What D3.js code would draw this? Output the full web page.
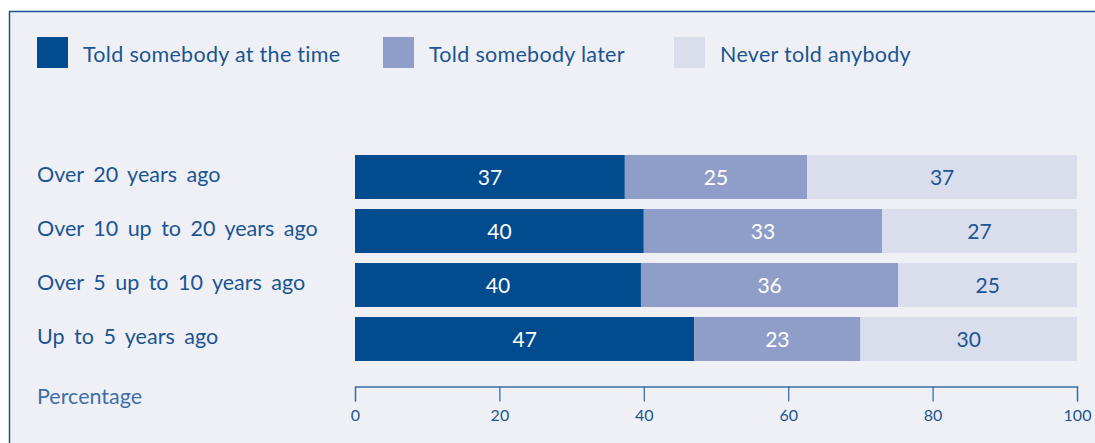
<!DOCTYPE html>
<html>
<head>
<meta charset="utf-8">
<script src="https://cdn.jsdelivr.net/npm/d3@7"></script>
<style>
  body { margin: 0; background: #fff; }
  text { font-family: "Lato", sans-serif; }
</style>
</head>
<body>
<div id="chart"></div>
<script>
// data
const periods = ["Over 20 years ago", "Over 10 up to 20 years ago", "Over 5 up to 10 years ago", "Up to 5 years ago"];
const seriesNames = ["Told somebody at the time", "Told somebody later", "Never told anybody"];
const toldAtTime = [37, 40, 40, 47];
const toldLater = [25, 33, 36, 23];
const neverTold = [37, 27, 25, 30];
const xTicks = [0, 20, 40, 60, 80, 100];

const width = 1095;
const height = 443;
const colors = ["#004c8f", "#8f9ec8", "#d9ddec"];
const labelColors = ["#ffffff", "#ffffff", "#1a5593"];
const textColor = "#1a5593";

const svg = d3.select("#chart").append("svg")
  .attr("width", width)
  .attr("height", height);

// panel
svg.append("rect")
  .attr("x", 9).attr("y", 11)
  .attr("width", width - 9).attr("height", height - 11)
  .attr("fill", "#eff0f6");
svg.append("line")
  .attr("x1", 9).attr("x2", width).attr("y1", 11.5).attr("y2", 11.5)
  .attr("stroke", "#1a5593").attr("stroke-width", 1.5);
svg.append("line")
  .attr("x1", 9.5).attr("x2", 9.5).attr("y1", 11).attr("y2", height)
  .attr("stroke", "#1a5593").attr("stroke-width", 1.5);

const x = d3.scaleLinear().domain([0, 100]).range([355, 1077]);
const y = d3.scaleBand().domain(periods).range([155, 361]).paddingInner(10 / 54).paddingOuter(0);

// rows: normalise each row to 100 like a percentage stack
const rows = periods.map((p, i) => {
  const vals = [toldAtTime[i], toldLater[i], neverTold[i]];
  const total = d3.sum(vals);
  let acc = 0;
  return vals.map((v, k) => {
    const s = acc;
    acc += v / total * 100;
    return { period: p, k, value: v, x0: s, x1: acc };
  });
});

const rowG = svg.selectAll("g.row")
  .data(rows)
  .enter().append("g")
  .attr("class", "row");

rowG.selectAll("rect")
  .data(d => d)
  .enter().append("rect")
  .attr("x", d => x(d.x0))
  .attr("y", d => y(d.period))
  .attr("width", d => x(d.x1) - x(d.x0))
  .attr("height", y.bandwidth())
  .attr("fill", d => colors[d.k]);

rowG.selectAll("text")
  .data(d => d)
  .enter().append("text")
  .attr("x", d => (x(d.x0) + x(d.x1)) / 2)
  .attr("y", d => y(d.period) + y.bandwidth() / 2)
  .attr("dy", "0.37em")
  .attr("text-anchor", "middle")
  .attr("font-size", 21)
  .attr("fill", d => labelColors[d.k])
  .text(d => d.value);

// category labels
svg.selectAll("text.cat")
  .data(periods)
  .enter().append("text")
  .attr("class", "cat")
  .attr("x", 37)
  .attr("y", d => y(d) + y.bandwidth() / 2)
  .attr("dy", "0.24em")
  .attr("font-size", 21.5)
  .attr("word-spacing", 4)
  .attr("fill", textColor)
  .text(d => d);

// legend
const legendX = [37, 383, 674];
const legend = svg.selectAll("g.legend")
  .data(seriesNames)
  .enter().append("g")
  .attr("class", "legend")
  .attr("transform", (d, i) => `translate(${legendX[i]},37)`);
legend.append("rect")
  .attr("width", 31).attr("height", 31)
  .attr("fill", (d, i) => colors[i]);
legend.append("text")
  .attr("x", 46).attr("y", 24.5)
  .attr("font-size", 21.5)
  .attr("letter-spacing", 0.3)
  .attr("fill", textColor)
  .text(d => d);

// axis
const axis = svg.append("g")
  .attr("transform", "translate(0,386.5)")
  .call(d3.axisBottom(x).tickValues(xTicks).tickSize(15).tickSizeOuter(15).tickPadding(8));
axis.select(".domain").attr("stroke", "#3a6ea8").attr("stroke-width", 1.3);
axis.selectAll(".tick line").attr("stroke", "#3a6ea8").attr("stroke-width", 1.3);
axis.selectAll(".tick text")
  .attr("font-size", 16)
  .attr("font-family", "Lato, sans-serif")
  .attr("fill", textColor);

svg.append("text")
  .attr("x", 37).attr("y", 403.5)
  .attr("font-size", 21.5)
  .attr("fill", "#3d6fa8")
  .text("Percentage");
</script>
</body>
</html>
